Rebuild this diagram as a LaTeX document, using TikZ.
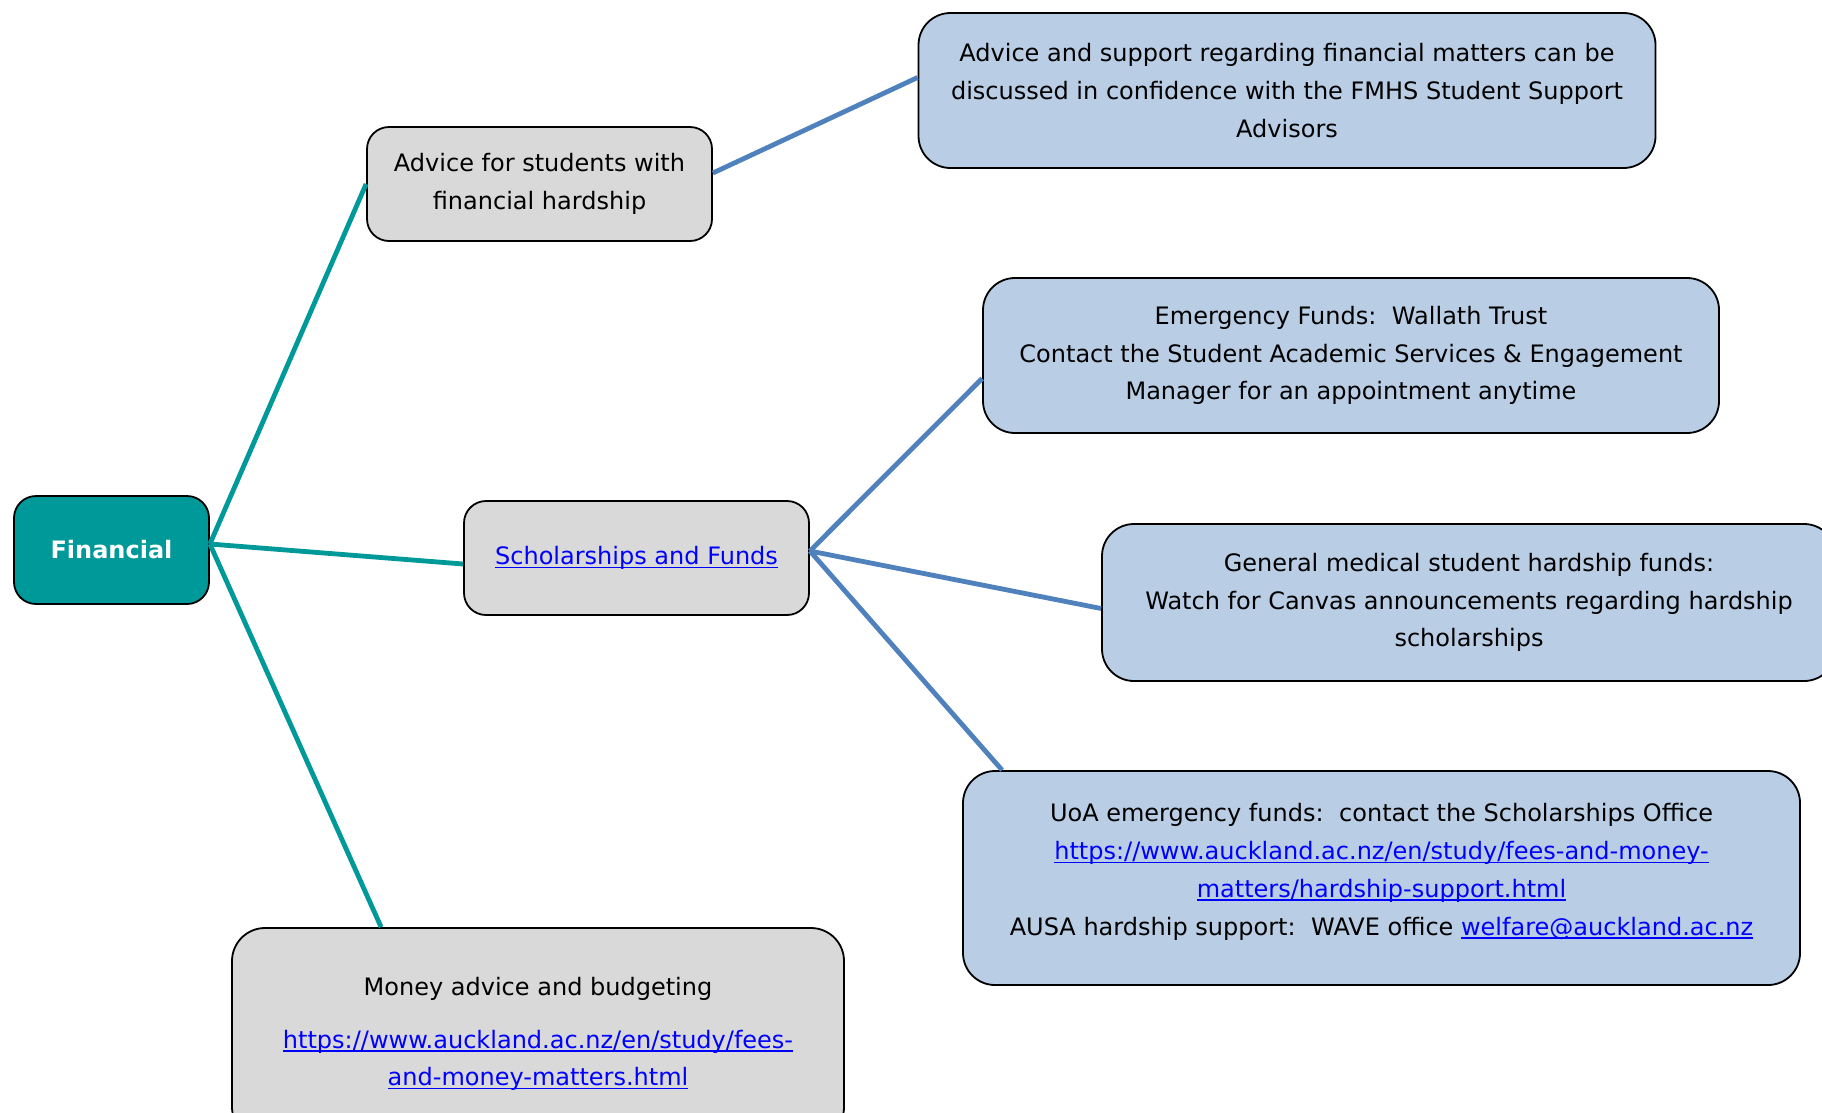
\documentclass[tikz,border=0pt]{standalone}
\usepackage{fontspec}
\setmainfont{DejaVu Sans}
\usetikzlibrary{calc}
\definecolor{tealc}{RGB}{0,153,153}
\definecolor{grayfill}{RGB}{217,217,217}
\definecolor{bluefill}{RGB}{185,205,229}
\definecolor{blueline}{RGB}{79,129,189}
\definecolor{linkblue}{RGB}{0,0,255}
\newcommand\lnk[1]{\textcolor{linkblue}{\setbox0\hbox{#1}\rlap{\rule[-3.5pt]{\wd0}{1.6pt}}\box0}}
\tikzset{
  box/.style={draw=black, line width=1.8pt, rounded corners=22pt, align=center, inner sep=0pt,
    font=\fontsize{24}{37.8}\selectfont},
  gbox/.style={box, fill=grayfill},
  bbox/.style={box, fill=bluefill, rounded corners=32pt},
  tline/.style={tealc, line width=4.8pt},
  bline/.style={blueline, line width=4.8pt},
}
\begin{document}
\begin{tikzpicture}[x=1pt,y=-1pt]
\useasboundingbox[fill=white] (0,0) rectangle (1822,1112);

\node[box, fill=tealc, text=white, minimum width=195pt, minimum height=108pt,
  font=\fontsize{24}{28}\selectfont\bfseries] (fin) at (111.5,550) {Financial};

\node[gbox, minimum width=345pt, minimum height=114pt] (adv) at (539.5,184)
  {Advice for students with\\financial hardship};

\node[gbox, minimum width=345pt, minimum height=114pt] (sch) at (636.5,558)
  {\lnk{Scholarships and Funds}};

\node[gbox, rounded corners=33pt, minimum width=612pt, minimum height=212pt] (mon) at (538,1034)
  {Money advice and budgeting\\[15pt]\lnk{https://www.auckland.ac.nz/en/study/fees-}\\\lnk{and-money-matters.html}};

\node[bbox, minimum width=737pt, minimum height=155pt] (sup) at (1287,90.5)
  {Advice and support regarding financial matters can be\\discussed in confidence with the FMHS Student Support\\Advisors};

\node[bbox, minimum width=736pt, minimum height=155pt] (emg) at (1351,355.5)
  {Emergency Funds:\: Wallath Trust\\Contact the Student Academic Services \& Engagement\\Manager for an appointment anytime};

\node[bbox, minimum width=734pt, minimum height=157pt] (gen) at (1469,602.5)
  {General medical student hardship funds:\\Watch for Canvas announcements regarding hardship\\scholarships};

\node[bbox, minimum width=837pt, minimum height=214pt] (uoa) at (1381.5,878) {};
\node[align=center, inner sep=0pt, font=\fontsize{24}{37.8}\selectfont] (uoat) at (1381.5,872)
  {UoA emergency funds:\: contact the Scholarships Office\\
   \lnk{https://www.auckland.ac.nz/en/study/fees-and-money-}\\
   \lnk{matters/hardship-support.html}\\
   AUSA hardship support:\: WAVE office \lnk{welfare@auckland.ac.nz}};

\draw[tline] ([yshift=6pt]fin.east) -- (adv.west);
\draw[tline] ([yshift=6pt]fin.east) -- ([yshift=-6pt]sch.west);
\draw[tline] ([yshift=6pt]fin.east) -- ([xshift=150pt]mon.north west);

\draw[bline] ([yshift=11pt]adv.east) -- ([yshift=13pt]sup.west);
\draw[bline] ([yshift=7pt]sch.east) -- ([yshift=-23pt]emg.west);
\draw[bline] ([yshift=7pt]sch.east) -- ([yshift=-6pt]gen.west);
\draw[bline] ([yshift=7pt]sch.east) -- ([xshift=40pt]uoa.north west);
\end{tikzpicture}
\end{document}
